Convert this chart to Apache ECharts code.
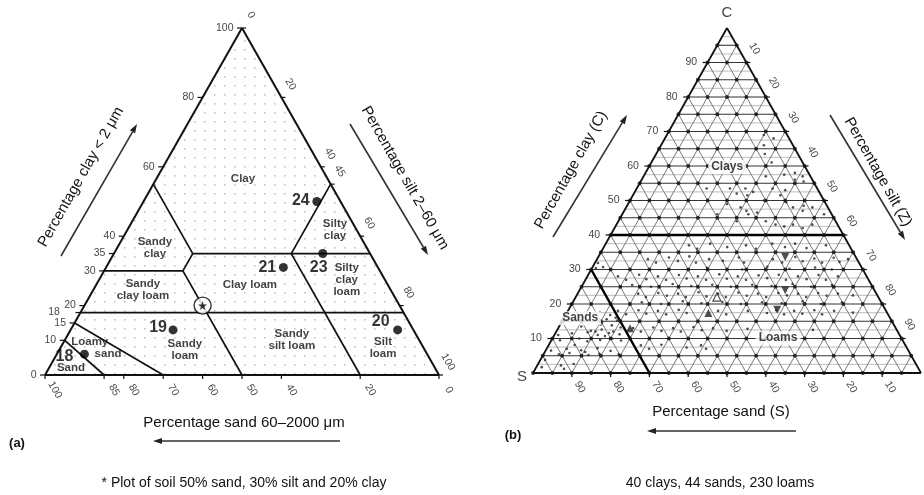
<!DOCTYPE html>
<html>
<head>
<meta charset="utf-8">
<script src="https://cdn.jsdelivr.net/npm/echarts@6/dist/echarts.min.js"></script>
<style>
  html, body { margin: 0; padding: 0; background: #fff; }
  #chart { width: 924px; height: 495px; }
</style>
</head>
<body>
<div id="chart"></div>
<script>
// ---------- Panel (a): England & Wales texture classes ----------
// Class boundary segments, end points as [sand, silt, clay] (%)
const classBoundaries = [
  [[45, 0, 55], [45, 20, 35]],
  [[70, 0, 30], [50, 20, 30]],
  [[50, 20, 30], [45, 20, 35]],
  [[45, 20, 35], [0, 65, 35]],
  [[0, 45, 55], [20, 45, 35]],
  [[20, 45, 35], [20, 80, 0]],
  [[82, 0, 18], [0, 82, 18]],
  [[50, 20, 30], [50, 50, 0]],
  [[90, 0, 10], [85, 15, 0]],
  [[85, 0, 15], [70, 30, 0]]
];
const classNames = ['Clay', 'Sandy\nclay', 'Silty\nclay', 'Sandy\nclay loam', 'Clay loam',
  'Silty\nclay\nloam', 'Sandy\nloam', 'Sandy\nsilt loam', 'Silt\nloam', 'Loamy', 'sand', 'Sand'];
// where each class name sits, as [silt, clay]
const classNameAt = [[22, 56.5], [9.6, 36.6], [52.7, 41.8], [12.6, 24.5], [39, 26], [62.9, 27.4],
  [31.9, 7.2], [57.6, 10.1], [81.9, 7.8], [6.6, 9.5], [13, 6], [5.6, 2]];

// Numbered soils: [sand, silt, clay]
const soilIds = ['24', '23', '21', '20', '19', '18'];
const soilSand = [6, 12, 24, 4, 61, 87];
const soilSilt = [44, 53, 45, 83, 26, 7];
const soilClay = [50, 35, 31, 13, 13, 6];
// Starred soil: 50% sand, 30% silt, 20% clay
const starSoil = [50, 30, 20];

const clayTicksA = [100, 80, 60, 40, 35, 30, 20, 18, 15, 10, 0];
const siltTicksA = [0, 20, 40, 45, 60, 80, 100];
const sandTicksA = [100, 85, 80, 70, 60, 50, 40, 20, 0];

// ---------- Panel (b): three-class grid ----------
const gridPct = [5, 10, 15, 20, 25, 30, 35, 40, 45, 50, 55, 60, 65, 70, 75, 80, 85, 90, 95];
const halfPct = [2.5, 7.5, 12.5, 17.5, 22.5, 27.5, 32.5, 37.5, 42.5, 47.5, 52.5, 57.5,
  62.5, 67.5, 72.5, 77.5, 82.5, 87.5, 92.5, 97.5];
const ticksB = [10, 20, 30, 40, 50, 60, 70, 80, 90];
// Group boundaries, [sand, silt, clay]
const groupBoundaries = [
  [[60, 0, 40], [0, 60, 40]],
  [[70, 0, 30], [70, 30, 0]]
];
const groupNames = ['Clays', 'Sands', 'Loams'];
const groupNameAt = [[20.2, 59.7], [4.2, 15.9], [58.1, 10.1]];

// Samples as [silt, clay]
const claySamples = [[25, 69], [28, 68], [26.5, 66], [28, 63.5], [18, 53.5], [25.5, 49], [26.5, 52],
  [28, 53.5], [29.5, 51.5], [30.5, 52.5], [31.5, 57], [36, 57.5], [38.5, 58], [41, 57], [39.5, 56],
  [42, 55.5], [35, 53.5], [38.5, 53], [40.5, 49.5], [45.5, 48.5], [48, 48], [46, 47], [43, 48],
  [31.5, 47], [32.5, 46], [30.5, 44], [38, 44], [41, 43], [43.5, 42.5], [45.5, 43], [48.5, 42],
  [50.5, 43], [24.5, 46], [34.5, 46.5], [34.5, 50], [31, 61], [29.5, 48], [52, 46], [38, 51.5], [24, 53.5]];
const sandSamples = [[5.7, 13.5], [8.8, 12.2], [10.4, 14], [11.4, 12.6], [13.4, 13.8], [14.7, 12], [16, 13.2],
  [11.5, 16.8], [8.4, 17.7],
  [1, 11], [2.2, 9.5], [4.3, 11.5], [6.9, 10], [8.2, 11.8], [9.4, 9.2], [11.2, 11], [12.5, 9.6],
  [13.8, 11.6], [15.4, 10], [16.7, 11.2], [18, 9.4],
  [1.4, 6.5], [4, 5.4], [5.2, 7], [6.5, 5.8], [9.1, 6.6], [11.7, 5.2], [13, 7.2], [14.3, 5.6], [16.8, 6.4], [19.4, 5.4],
  [1.4, 1.7], [6.1, 2.2], [7.4, 1.2], [9.2, 2.6],
  [11.2, 15.6], [13.3, 16], [14.1, 15.2], [10.5, 14.6], [10.1, 12], [13.2, 10.7], [6.7, 8.1], [10.4, 6.1], [1.2, 3.8]];
const loamSamples = [
  [21.7, 37], [24.3, 36], [26.9, 37.5], [31.8, 36.5], [36.4, 37], [39.5, 36], [42.9, 37.5], [46.7, 36.5],
  [48.8, 37.5], [52.4, 36.2], [57, 37],
  [13.1, 33], [15.7, 32], [18.3, 33.5], [21.1, 32.5], [23.4, 33.8], [26, 32], [28.9, 33], [32.7, 32.5],
  [36.3, 33.5], [38.4, 32], [45.3, 33], [48.2, 32], [50.8, 33.6], [53.3, 32.4], [55.9, 33.2], [58.5, 32],
  [60.8, 33.4], [62.9, 32.2], [64.7, 33], [0.8, 31.9], [2.7, 30.7], [1, 30.4],
  [29.6, 30.5], [38.9, 30], [45, 30.8], [51, 30.2], [57.4, 30.6], [62, 30],
  [7.9, 28], [10.5, 27], [13.1, 28.5], [15.6, 27.2], [18.2, 28], [20.8, 27], [23.4, 28.4], [25.9, 27.4],
  [28.5, 28], [31.1, 27], [33.7, 28.6], [36.3, 27.3], [38.8, 28], [41.4, 27], [44, 28.3], [46.6, 27.5],
  [49.1, 28.5], [51.7, 27], [54.3, 28], [56.9, 27.2], [59.4, 28.4], [62, 27], [64.6, 28],
  [12.8, 25.5], [17.9, 25], [23.1, 25.8], [28.2, 25.2], [33.4, 25.6], [38.5, 25], [43.7, 25.6],
  [48.9, 25.2], [54, 25.8], [59.2, 25], [64.3, 25.5],
  [15.6, 23], [18.1, 22], [20.7, 23.2], [23.3, 22.4], [25.9, 23], [28.4, 22], [31, 23.4], [33.6, 22.2],
  [36.2, 23], [38.7, 22], [41.3, 23.3], [43.9, 22.4], [46.5, 23], [49.1, 22], [51.6, 23.2], [54.2, 22.5],
  [56.8, 23], [59.4, 22], [61.9, 23.2], [64.5, 22.4], [67.1, 23], [71.2, 22.5],
  [17.8, 20.5], [23, 20], [28.2, 20.8], [33.3, 20.2], [38.5, 20.6], [43.6, 20], [48.8, 20.5], [54, 20.2],
  [59.1, 20.8], [64.2, 20], [69.4, 20.5],
  [12.9, 18], [15.5, 17], [18.1, 18.2], [20.6, 17.2], [23.2, 18], [25.8, 17], [28.4, 18.3], [30.9, 17.4],
  [38.7, 18], [41.3, 17], [46.4, 18], [51.6, 17.4], [53.6, 18.2], [56.2, 17], [58.3, 18], [60.8, 17.2],
  [63.4, 18.2], [66, 17], [68.6, 18], [73.7, 17.5],
  [19.3, 13], [21.8, 12], [24.4, 13.2], [27, 12.2], [29.6, 13], [32.1, 12], [34.7, 13.3], [37.3, 12.4],
  [39.9, 13], [43.8, 12.2], [48.9, 12.8], [65.9, 12.5],
  [23.8, 8], [26.4, 7], [29, 8.2], [35.9, 7.4], [39.3, 8], [41.1, 7]];
// Several coincident samples
const stackedUp = [[36.5, 17.4], [18.5, 13]];
const stackedDown = [[48.2, 33.6], [53.8, 18.3], [53, 24]];
const stackedOpen = [[36.4, 22]];

// ---------- helpers ----------
const FONT = '"Liberation Sans", Arial, sans-serif';
// ternary (silt, clay) -> plotting plane: x = silt + clay/2, y = clay
const uv = (silt, clay) => [silt + clay / 2, clay];
const uvS = (t) => uv(t[1], t[2]);
// label offsets are applied in the rotated text frame; convert a screen offset into that frame
function screenOffset(dx, dy, rotDeg) {
  const r = rotDeg * Math.PI / 180;
  const c = Math.cos(r), s = Math.sin(r);
  return [dx * c - dy * s, dx * s + dy * c];
}

function segSeries(gi, segs, style, z) {
  return {
    type: 'custom', xAxisIndex: gi, yAxisIndex: gi, z: z, silent: true, clip: false,
    data: segs.map(s => [s[0][0], s[0][1], s[1][0], s[1][1]]),
    encode: { x: [0, 2], y: [1, 3] },
    renderItem: (p, api) => {
      const a = api.coord([api.value(0), api.value(1)]);
      const b = api.coord([api.value(2), api.value(3)]);
      return { type: 'line', shape: { x1: a[0], y1: a[1], x2: b[0], y2: b[1] },
        style: Object.assign({ stroke: '#000', lineWidth: 1 }, style) };
    }
  };
}
function tickSeries(gi, pts, dx, dy, z) {
  return {
    type: 'custom', xAxisIndex: gi, yAxisIndex: gi, z: z, silent: true, clip: false,
    data: pts, encode: { x: 0, y: 1 },
    renderItem: (p, api) => {
      const a = api.coord([api.value(0), api.value(1)]);
      return { type: 'line', shape: { x1: a[0], y1: a[1], x2: a[0] + dx, y2: a[1] + dy },
        style: { stroke: '#111', lineWidth: 1.2 } };
    }
  };
}
function textSeries(gi, pts, texts, label, z) {
  return {
    type: 'scatter', xAxisIndex: gi, yAxisIndex: gi, z: z || 6, silent: true,
    symbolSize: 1, itemStyle: { color: 'rgba(0,0,0,0)' },
    data: pts.map((p, i) => ({ value: p, label: { formatter: String(texts[i]) } })),
    label: Object.assign({ show: true, position: 'inside', color: '#111', fontFamily: FONT }, label)
  };
}
function triangleOutline() {
  return [[uv(0, 0), uv(100, 0)], [uv(100, 0), uv(0, 100)], [uv(0, 100), uv(0, 0)]];
}

// dotted stipple for panel (a)
const stipple = document.createElement('canvas');
stipple.width = 10; stipple.height = 9;
(function () {
  const g = stipple.getContext('2d');
  g.fillStyle = '#c4c4c4';
  g.fillRect(4, 4, 1.6, 1.6);
})();

// ---------- panel (a) series ----------
const seriesA = [];
seriesA.push({
  type: 'custom', xAxisIndex: 0, yAxisIndex: 0, z: 1, silent: true, clip: false,
  data: [[0, 0]],
  renderItem: (p, api) => {
    const pts = [api.coord(uv(0, 0)), api.coord(uv(100, 0)), api.coord(uv(0, 100))];
    return { type: 'polygon', shape: { points: pts }, style: { fill: { image: stipple, repeat: 'repeat' } } };
  }
});
seriesA.push(segSeries(0, triangleOutline(), { lineWidth: 2, stroke: '#111' }, 4));
seriesA.push(segSeries(0, classBoundaries.map(s => [uvS(s[0]), uvS(s[1])]), { lineWidth: 1.7, stroke: '#111' }, 3));
seriesA.push(tickSeries(0, clayTicksA.map(c => uv(0, c)), -5, 0, 4));
seriesA.push(tickSeries(0, siltTicksA.map(s => uv(s, 100 - s)), 4, 0, 4));
seriesA.push(tickSeries(0, sandTicksA.map(s => uv(100 - s, 0)), 0, 4, 4));
// tick labels
seriesA.push({
  type: 'scatter', xAxisIndex: 0, yAxisIndex: 0, z: 6, silent: true,
  symbolSize: 1, itemStyle: { color: 'rgba(0,0,0,0)' },
  data: clayTicksA.map(c => ({ value: uv(0, c), label: { formatter: String(c), distance: c === 18 ? 20 : 8 } })),
  label: { show: true, position: 'left', color: '#111', fontFamily: FONT, fontSize: 10.5 }
});
seriesA.push(textSeries(0, siltTicksA.map(s => uv(s, 100 - s)), siltTicksA,
  { offset: screenOffset(9, -13, -60), rotate: -60, fontSize: 10.5 }));
seriesA.push(textSeries(0, sandTicksA.map(s => uv(100 - s, 0)), sandTicksA,
  { offset: screenOffset(10, 15, -60), rotate: -60, fontSize: 10.5 }));
// class names
seriesA.push(textSeries(0, classNameAt.map(p => uv(p[0], p[1])), classNames,
  { fontSize: 11.5, fontWeight: 'bold', lineHeight: 12, align: 'center' }, 5));
// numbered soils
const soilLabelOffsets = [[-16, -1], [-4, 14], [-16, 0], [-17, -8], [-15, -2], [-20, 2]];
seriesA.push({
  type: 'scatter', xAxisIndex: 0, yAxisIndex: 0, z: 7, silent: true,
  symbol: 'circle', symbolSize: 9, itemStyle: { color: '#000' },
  data: soilIds.map((id, i) => ({
    value: uv(soilSilt[i], soilClay[i]),
    label: { formatter: id, offset: soilLabelOffsets[i] }
  })),
  label: { show: true, position: 'inside', color: '#000', fontFamily: FONT, fontWeight: 'bold', fontSize: 16 }
});
seriesA.push({
  type: 'scatter', xAxisIndex: 0, yAxisIndex: 0, z: 7, silent: true,
  symbol: 'circle', symbolSize: 17,
  itemStyle: { color: '#fff', borderColor: '#000', borderWidth: 1.4 },
  data: [uv(starSoil[1], starSoil[2])]
});
seriesA.push({
  type: 'scatter', xAxisIndex: 0, yAxisIndex: 0, z: 8, silent: true,
  symbol: 'path://M50,0 L61,35 L98,35 L68,57 L79,91 L50,70 L21,91 L32,57 L2,35 L39,35 Z',
  symbolSize: 9, itemStyle: { color: '#000' },
  data: [uv(starSoil[1], starSoil[2])]
});

// ---------- panel (b) series ----------
const seriesB = [];
const hMain = gridPct.map(c => [uv(0, c), uv(100 - c, c)]);
const hHalf = halfPct.map(c => [uv(0, c), uv(100 - c, c)]);
const dSilt = gridPct.map(s => [uv(s, 0), uv(s, 100 - s)]);
const dSand = gridPct.map(t => [uv(100 - t, 0), uv(0, 100 - t)]);
seriesB.push(segSeries(1, hHalf, { lineWidth: 1.2, stroke: '#c9c9c9' }, 1));
seriesB.push(segSeries(1, dSilt.concat(dSand), { lineWidth: 0.9, stroke: '#6a6a6a' }, 2));
seriesB.push(segSeries(1, hMain, { lineWidth: 1.1, stroke: '#333' }, 2));
seriesB.push(segSeries(1, triangleOutline(), { lineWidth: 1.8, stroke: '#111' }, 4));
seriesB.push(segSeries(1, groupBoundaries.map(s => [uvS(s[0]), uvS(s[1])]), { lineWidth: 2.4, stroke: '#000' }, 4));
// grid vertices
const vertices = [];
[0].concat(gridPct).forEach(c => {
  [0].concat(gridPct).forEach(s => { if (s + c <= 100 && c < 100) vertices.push(uv(s, c)); });
});
seriesB.push({
  type: 'scatter', xAxisIndex: 1, yAxisIndex: 1, z: 5, silent: true,
  symbolSize: 4, itemStyle: { color: '#111' }, data: vertices
});
// samples
seriesB.push({
  type: 'scatter', xAxisIndex: 1, yAxisIndex: 1, z: 6, silent: true,
  symbolSize: 2.6, itemStyle: { color: '#222' },
  data: claySamples.concat(sandSamples, loamSamples).map(p => uv(p[0], p[1]))
});
seriesB.push({
  type: 'scatter', xAxisIndex: 1, yAxisIndex: 1, z: 6, silent: true,
  symbol: 'triangle', symbolSize: 8, itemStyle: { color: '#222' },
  data: stackedUp.map(p => uv(p[0], p[1]))
});
seriesB.push({
  type: 'scatter', xAxisIndex: 1, yAxisIndex: 1, z: 6, silent: true,
  symbol: 'triangle', symbolRotate: 180, symbolSize: 8, itemStyle: { color: '#222' },
  data: stackedDown.map(p => uv(p[0], p[1]))
});
seriesB.push({
  type: 'scatter', xAxisIndex: 1, yAxisIndex: 1, z: 6, silent: true,
  symbol: 'triangle', symbolSize: 8, itemStyle: { color: 'rgba(0,0,0,0)', borderColor: '#222', borderWidth: 1.2 },
  data: stackedOpen.map(p => uv(p[0], p[1]))
});
seriesB.push(tickSeries(1, ticksB.map(c => uv(0, c)), -5, 0, 4));
seriesB.push(tickSeries(1, ticksB.map(s => uv(s, 100 - s)), 4, 0, 4));
seriesB.push(tickSeries(1, ticksB.map(s => uv(100 - s, 0)), 0, 4, 4));
seriesB.push({
  type: 'scatter', xAxisIndex: 1, yAxisIndex: 1, z: 6, silent: true,
  symbolSize: 1, itemStyle: { color: 'rgba(0,0,0,0)' },
  data: ticksB.map(c => ({ value: uv(0, c), label: { formatter: String(c) } })),
  label: { show: true, position: 'left', distance: 10, color: '#111', fontFamily: FONT, fontSize: 10.5 }
});
seriesB.push(textSeries(1, ticksB.map(s => uv(s, 100 - s)), ticksB,
  { offset: screenOffset(8, -14, -60), rotate: -60, fontSize: 10.5 }));
seriesB.push(textSeries(1, ticksB.map(s => uv(100 - s, 0)), ticksB,
  { offset: screenOffset(8, 14, -60), rotate: -60, fontSize: 10.5 }));
seriesB.push(textSeries(1, groupNameAt.map(p => uv(p[0], p[1])), groupNames,
  { fontSize: 12, fontWeight: 'bold', backgroundColor: '#fff', padding: [1, 3] }, 7));
// corner letters
seriesB.push({
  type: 'scatter', xAxisIndex: 1, yAxisIndex: 1, z: 7, silent: true,
  symbolSize: 1, itemStyle: { color: 'rgba(0,0,0,0)' },
  data: [
    { value: uv(0, 100), label: { formatter: 'C', offset: [0, -15] } },
    { value: uv(0, 0), label: { formatter: 'S', offset: [-11, 4] } }
  ],
  label: { show: true, position: 'inside', color: '#111', fontFamily: FONT, fontSize: 15 }
});

// ---------- decorations: axis titles, arrows, captions ----------
function arrow(x1, y1, x2, y2) {
  const ang = Math.atan2(y2 - y1, x2 - x1);
  const L = 9, W = 3;
  const bx = x2 - L * Math.cos(ang), by = y2 - L * Math.sin(ang);
  return {
    type: 'group', silent: true,
    children: [
      { type: 'line', shape: { x1: x1, y1: y1, x2: bx, y2: by }, style: { stroke: '#333', lineWidth: 1.6 } },
      { type: 'polygon', shape: { points: [[x2, y2],
        [bx + W * Math.sin(ang), by - W * Math.cos(ang)],
        [bx - W * Math.sin(ang), by + W * Math.cos(ang)]] }, style: { fill: '#222' } }
    ]
  };
}
function label(x, y, text, size, rot, weight) {
  return { type: 'text', x: x, y: y, rotation: (rot || 0) * Math.PI / 180, silent: true,
    style: { text: text, fill: '#111', fontFamily: FONT, fontSize: size, fontWeight: weight || 'normal',
      align: 'center', verticalAlign: 'middle' } };
}

const chart = echarts.init(document.getElementById('chart'), null, { renderer: 'canvas' });
chart.setOption({
  animation: false,
  backgroundColor: '#fff',
  grid: [
    { left: 25.3, top: 10.65, width: 433.4, height: 381.7, outerBoundsMode: 'none' },
    { left: 513.6, top: 10.75, width: 426.8, height: 379.5, outerBoundsMode: 'none' }
  ],
  xAxis: [
    { type: 'value', gridIndex: 0, min: -5, max: 105, show: false },
    { type: 'value', gridIndex: 1, min: -5, max: 105, show: false }
  ],
  yAxis: [
    { type: 'value', gridIndex: 0, min: -5, max: 105, show: false },
    { type: 'value', gridIndex: 1, min: -5, max: 105, show: false }
  ],
  series: seriesA.concat(seriesB),
  graphic: [
    label(81, 177, 'Percentage clay < 2 μm', 15, 60.4),
    arrow(61, 256, 137, 124),
    label(405, 178, 'Percentage silt 2–60 μm', 15, -60.4),
    arrow(350, 124, 428, 255),
    label(244, 423, 'Percentage sand 60–2000 μm', 15),
    arrow(340, 441, 153, 441),
    label(17, 443, '(a)', 13, 0, 'bold'),
    label(244, 483, '* Plot of soil 50% sand, 30% silt and 20% clay', 14),
    label(571, 170, 'Percentage clay (C)', 15, 60.6),
    arrow(553, 237, 627, 115),
    label(878, 172, 'Percentage silt (Z)', 15, -60.6),
    arrow(830, 115, 905, 240),
    label(721, 412, 'Percentage sand (S)', 15),
    arrow(796, 431, 647, 431),
    label(513, 435, '(b)', 13, 0, 'bold'),
    label(720, 483, '40 clays, 44 sands, 230 loams', 14)
  ]
});
</script>
</body>
</html>
